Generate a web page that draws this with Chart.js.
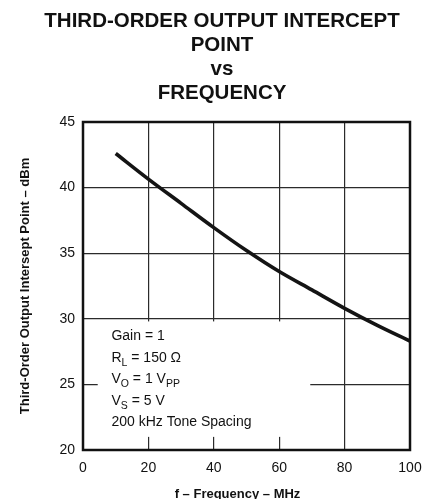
<!DOCTYPE html>
<html>
<head>
<meta charset="utf-8">
<script src="https://cdn.jsdelivr.net/npm/chart.js@4/dist/chart.umd.min.js"></script>
<style>
  html, body { margin: 0; padding: 0; background: #fff; }
  #wrap { width: 437px; height: 499px; position: relative; }
</style>
</head>
<body>
<div id="wrap"><canvas id="c" width="437" height="499"></canvas></div>
<script>
// ---- data ----
const freqMHz = [10, 20, 30, 40, 50, 60, 70, 80, 90, 100];
const oip3dBm = [42.6, 40.65, 38.8, 36.95, 35.2, 33.6, 32.2, 30.8, 29.5, 28.3];
const xTickValues = [0, 20, 40, 60, 80, 100];
const yTickValues = [20, 25, 30, 35, 40, 45];
const titleLines = ['THIRD-ORDER OUTPUT INTERCEPT', 'POINT', 'vs', 'FREQUENCY'];
const xTitle = 'f \u2013 Frequency \u2013 MHz';
const yTitle = 'Third-Order Output Intersept Point \u2013 dBm';
// annotation lines: arrays of [text, isSubscript]
const noteLines = [
  [['Gain = 1', false]],
  [['R', false], ['L', true], [' = 150 \u03A9', false]],
  [['V', false], ['O', true], [' = 1 V', false], ['PP', true]],
  [['V', false], ['S', true], [' = 5 V', false]],
  [['200 kHz Tone Spacing', false]]
];

const FONT = "'Liberation Sans', Arial, Helvetica, sans-serif";

const overlay = {
  id: 'overlay',
  beforeDatasetsDraw(chart) {
    const { ctx, scales: { x, y } } = chart;
    // white box behind the test-condition notes
    const bx0 = x.getPixelForValue(4.5), bx1 = x.getPixelForValue(69.5);
    const by0 = y.getPixelForValue(29.8), by1 = y.getPixelForValue(21);
    ctx.save();
    ctx.fillStyle = '#ffffff';
    ctx.fillRect(bx0, by0, bx1 - bx0, by1 - by0);
    // notes
    ctx.fillStyle = '#111';
    ctx.textBaseline = 'alphabetic';
    ctx.textAlign = 'left';
    const tx = x.getPixelForValue(8.7);
    let base = by0 + 19;
    noteLines.forEach(parts => {
      let cx = tx;
      parts.forEach(([t, sub]) => {
        ctx.font = (sub ? '10.5px ' : '14px ') + FONT;
        ctx.fillText(t, cx, sub ? base + 4 : base);
        cx += ctx.measureText(t).width;
      });
      base += 21.5;
    });
    ctx.restore();
  },
  afterDatasetsDraw(chart) {
    const { ctx, chartArea: a } = chart;
    ctx.save();
    ctx.strokeStyle = '#111';
    ctx.lineWidth = 2.5;
    ctx.strokeRect(a.left, a.top, a.right - a.left, a.bottom - a.top);
    ctx.restore();
  },
  afterDraw(chart) {
    const { ctx, chartArea: a } = chart;
    ctx.save();
    ctx.fillStyle = '#111';
    ctx.textAlign = 'center';
    ctx.textBaseline = 'alphabetic';
    // chart title
    ctx.font = 'bold 20.5px ' + FONT;
    titleLines.forEach((t, i) => ctx.fillText(t, 222, 26.7 + i * 24.2));
    // x-axis title
    ctx.font = 'bold 13px ' + FONT;
    ctx.fillText(xTitle, (a.left + a.right) / 2 - 9, 497.5);
    ctx.restore();
  }
};

const gridColor = (c) => {
  const v = c.tick ? c.tick.value : null;
  const s = c.scale;
  if (v === s.min || v === s.max) return 'rgba(0,0,0,0)';
  return '#2b2b2b';
};

new Chart(document.getElementById('c'), {
  type: 'line',
  data: {
    datasets: [{
      data: freqMHz.map((f, i) => ({ x: f, y: oip3dBm[i] })),
      borderColor: '#141414',
      borderWidth: 3.6,
      pointRadius: 0,
      fill: false,
      cubicInterpolationMode: 'monotone'
    }]
  },
  options: {
    responsive: false,
    animation: false,
    devicePixelRatio: 1,
    layout: { padding: { left: 0, right: 27, top: 122, bottom: 0 } },
    plugins: {
      legend: { display: false },
      tooltip: { enabled: false },
      title: { display: false }
    },
    scales: {
      x: {
        type: 'linear',
        min: xTickValues[0],
        max: xTickValues[xTickValues.length - 1],
        afterBuildTicks: (s) => { s.ticks = xTickValues.map(v => ({ value: v })); },
        afterFit: (s) => { s.height = 49; },
        border: { display: false },
        grid: { color: gridColor, lineWidth: 1.2, drawTicks: false },
        ticks: { color: '#111', font: { family: FONT, size: 14 }, padding: 10, maxRotation: 0 },
        title: { display: false }
      },
      y: {
        type: 'linear',
        min: yTickValues[0],
        max: yTickValues[yTickValues.length - 1],
        afterBuildTicks: (s) => { s.ticks = yTickValues.map(v => ({ value: v })); },
        afterFit: (s) => { s.width = 83; },
        border: { display: false },
        grid: { color: gridColor, lineWidth: 1.2, drawTicks: false },
        ticks: { color: '#111', font: { family: FONT, size: 14 }, padding: 8 },
        title: {
          display: true,
          text: yTitle,
          color: '#111',
          font: { family: FONT, size: 13, weight: 'bold', lineHeight: 1.2 },
          padding: { top: 18, bottom: 0 }
        }
      }
    }
  },
  plugins: [overlay]
});
</script>
</body>
</html>
